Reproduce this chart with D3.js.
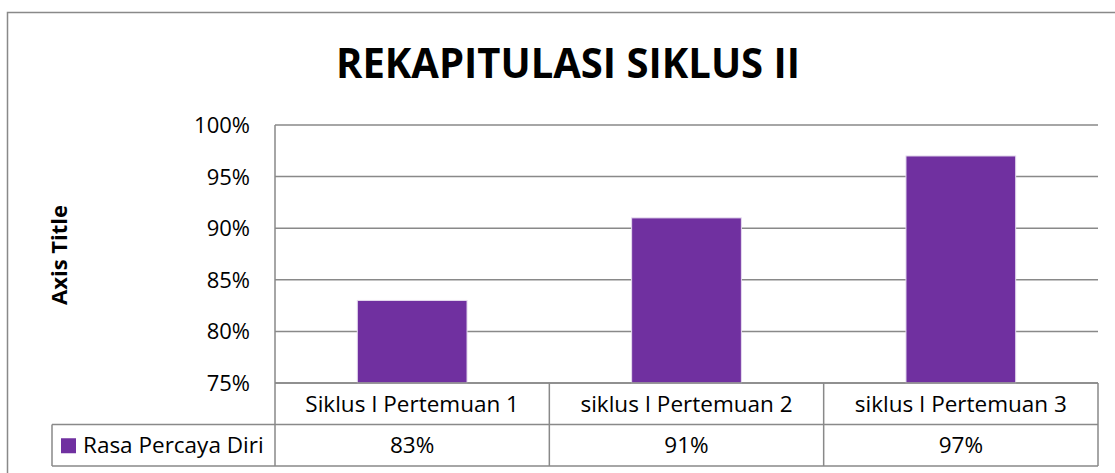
<!DOCTYPE html>
<html>
<head>
<meta charset="utf-8">
<script src="https://cdn.jsdelivr.net/npm/d3@7"></script>
<style>
  body { margin: 0; background: #fff; }
  text { font-family: "Open Sans", "Noto Sans", sans-serif; fill: #000; }
</style>
</head>
<body>
<div id="chart"></div>
<script>
// chart data
var categories = ["Siklus I Pertemuan 1", "siklus I Pertemuan 2", "siklus I Pertemuan 3"];
var values = [0.83, 0.91, 0.97];
var yTicks = [0.75, 0.80, 0.85, 0.90, 0.95, 1.00];
var seriesName = "Rasa Percaya Diri";
var titleText = "REKAPITULASI SIKLUS II";
var axisTitle = "Axis Title";

var svgWidth = 1115;
var svgHeight = 473;

// plot area
var plot = { left: 275, top: 125, right: 1098, bottom: 383 };
var rowH = 41.5;
var barColor = "#7030A0";
var lineColor = "#898989";

var svg = d3.select("#chart")
  .append("svg")
  .attr("width", svgWidth)
  .attr("height", svgHeight);

// outer chart border (runs off the right/bottom edge)
svg.append("rect")
  .attr("x", 7.5).attr("y", 12.5)
  .attr("width", 1130).attr("height", 480)
  .attr("fill", "none")
  .attr("stroke", lineColor)
  .attr("stroke-width", 1.5);

// title
var title = svg.append("text")
  .attr("x", 568)
  .attr("y", 78)
  .attr("text-anchor", "middle")
  .style("font-weight", "bold")
  .style("font-size", "42px")
  .text(titleText);
title.attr("textLength", 464).attr("lengthAdjust", "spacingAndGlyphs");

var x = d3.scaleBand()
  .domain(categories)
  .range([plot.left, plot.right])
  .padding(0);

var y = d3.scaleLinear()
  .domain([0.75, 1.00])
  .range([plot.bottom, plot.top]);

// gridlines
svg.append("g")
  .selectAll("line")
  .data(yTicks)
  .enter()
  .append("line")
  .attr("x1", plot.left)
  .attr("x2", plot.right)
  .attr("y1", d => y(d))
  .attr("y2", d => y(d))
  .attr("stroke", lineColor)
  .attr("stroke-width", 1.5);

// left axis line
svg.append("line")
  .attr("x1", plot.left).attr("x2", plot.left)
  .attr("y1", plot.top).attr("y2", plot.bottom)
  .attr("stroke", lineColor)
  .attr("stroke-width", 1.5);

// y tick labels
svg.append("g")
  .selectAll("text")
  .data(yTicks)
  .enter()
  .append("text")
  .attr("x", 250)
  .attr("y", d => y(d))
  .attr("dy", "0.36em")
  .attr("text-anchor", "end")
  .style("font-size", "22px")
  .text(d => d3.format(".0%")(d));

// axis title
svg.append("text")
  .attr("transform", "translate(67,255) rotate(-90)")
  .attr("text-anchor", "middle")
  .style("font-weight", "bold")
  .style("font-size", "22px")
  .text(axisTitle);

// bars
var barW = x.bandwidth() * 0.4;
svg.append("g")
  .selectAll(".bar")
  .data(values)
  .enter()
  .append("rect")
  .attr("class", "bar")
  .attr("x", (d, i) => x(categories[i]) + (x.bandwidth() - barW) / 2)
  .attr("y", d => y(d))
  .attr("width", barW)
  .attr("height", d => plot.bottom - y(d))
  .attr("fill", barColor)
  .attr("stroke", "#e6dcef")
  .attr("stroke-width", 1);

// data table
var table = svg.append("g");
var row1 = plot.bottom;
var row2 = plot.bottom + rowH;
var row3 = plot.bottom + rowH * 2;
var legendLeft = 52;

function hline(x1, x2, yy) {
  table.append("line")
    .attr("x1", x1).attr("x2", x2)
    .attr("y1", yy).attr("y2", yy)
    .attr("stroke", lineColor).attr("stroke-width", 1.5);
}
function vline(xx, y1, y2) {
  table.append("line")
    .attr("x1", xx).attr("x2", xx)
    .attr("y1", y1).attr("y2", y2)
    .attr("stroke", lineColor).attr("stroke-width", 1.5);
}

hline(plot.left, plot.right, row1);
hline(legendLeft, plot.right, row2);
hline(legendLeft, plot.right, row3);
vline(legendLeft, row2, row3);
categories.forEach(function(c) {
  vline(x(c), row1, row3);
});
vline(plot.right, row1, row3);

// category labels
table.selectAll(".cat")
  .data(categories)
  .enter()
  .append("text")
  .attr("class", "cat")
  .attr("x", d => x(d) + x.bandwidth() / 2)
  .attr("y", row1 + rowH / 2)
  .attr("dy", "0.36em")
  .attr("text-anchor", "middle")
  .style("font-size", "22.5px")
  .text(d => d);

// values row
table.selectAll(".val")
  .data(values)
  .enter()
  .append("text")
  .attr("class", "val")
  .attr("x", (d, i) => x(categories[i]) + x.bandwidth() / 2)
  .attr("y", row2 + rowH / 2)
  .attr("dy", "0.36em")
  .attr("text-anchor", "middle")
  .style("font-size", "22.5px")
  .text(d => d3.format(".0%")(d));

// legend key
table.append("rect")
  .attr("x", 61).attr("y", row2 + rowH / 2 - 7)
  .attr("width", 15).attr("height", 15)
  .attr("fill", barColor);
table.append("text")
  .attr("x", 83)
  .attr("y", row2 + rowH / 2)
  .attr("dy", "0.36em")
  .style("font-size", "22.5px")
  .text(seriesName);
</script>
</body>
</html>
